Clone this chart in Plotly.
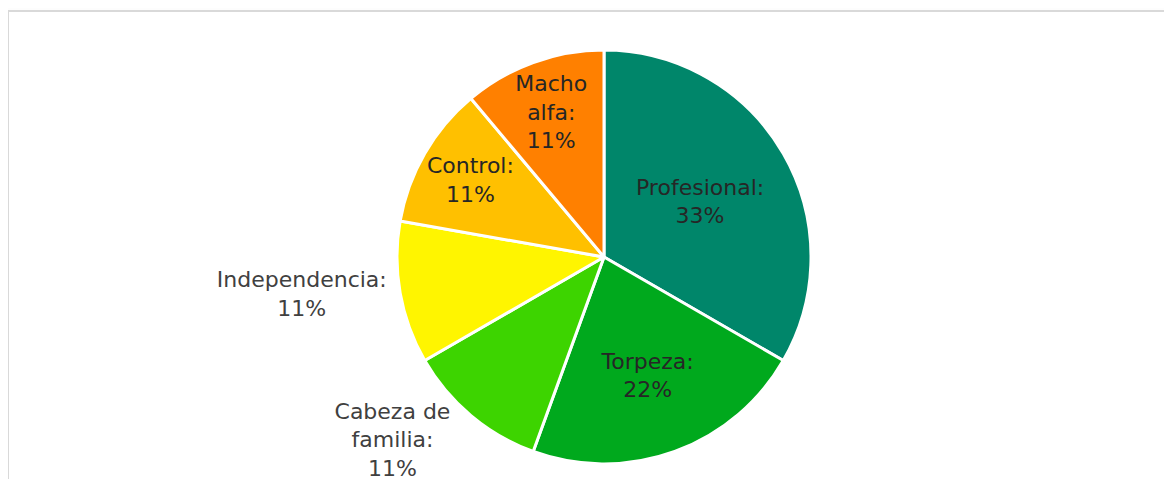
import plotly.graph_objects as go

categories = ["Profesional", "Torpeza", "Cabeza de familia", "Independencia", "Control", "Macho alfa"]
wrapped_labels = ["Profesional:", "Torpeza:", "Cabeza de<br>familia:", "Independencia:", "Control:", "Macho<br>alfa:"]
values = [3, 2, 1, 1, 1, 1]
colors = ["#00866A", "#00A91D", "#3DD400", "#FFF500", "#FFC000", "#FF8000"]
text_positions = ["inside", "inside", "outside", "outside", "inside", "inside"]

W, H = 1172, 479
cx, cy, r = 596, 249, 207
FONT = "DejaVu Sans, sans-serif"

fig = go.Figure(go.Pie(
    labels=categories,
    values=values,
    customdata=wrapped_labels,
    texttemplate="%{customdata}<br>%{percent:.0%}",
    textposition=text_positions,
    insidetextorientation="horizontal",
    sort=False,
    direction="clockwise",
    rotation=0,
    marker=dict(colors=colors, line=dict(color="white", width=3)),
    textfont=dict(family=FONT, size=22, color="#404040"),
    insidetextfont=dict(family=FONT, size=22, color="#262626"),
    outsidetextfont=dict(family=FONT, size=22, color="#404040"),
    domain=dict(x=[(cx - r) / W, (cx + r) / W], y=[1 - (cy + r) / H, 1 - (cy - r) / H]),
    showlegend=False,
    hoverinfo="label+percent",
))

fig.update_layout(
    width=W, height=H,
    margin=dict(l=0, r=0, t=0, b=0),
    paper_bgcolor="#FDFDFD",
    uniformtext=dict(minsize=22, mode="show"),
    shapes=[dict(type="rect", xref="paper", yref="paper",
                 x0=0, x1=1.05, y0=-0.05, y1=1 - 3 / H,
                 line=dict(color="#D9D9D9", width=2), fillcolor="white", layer="below")],
)

fig.write_html("out.html")
